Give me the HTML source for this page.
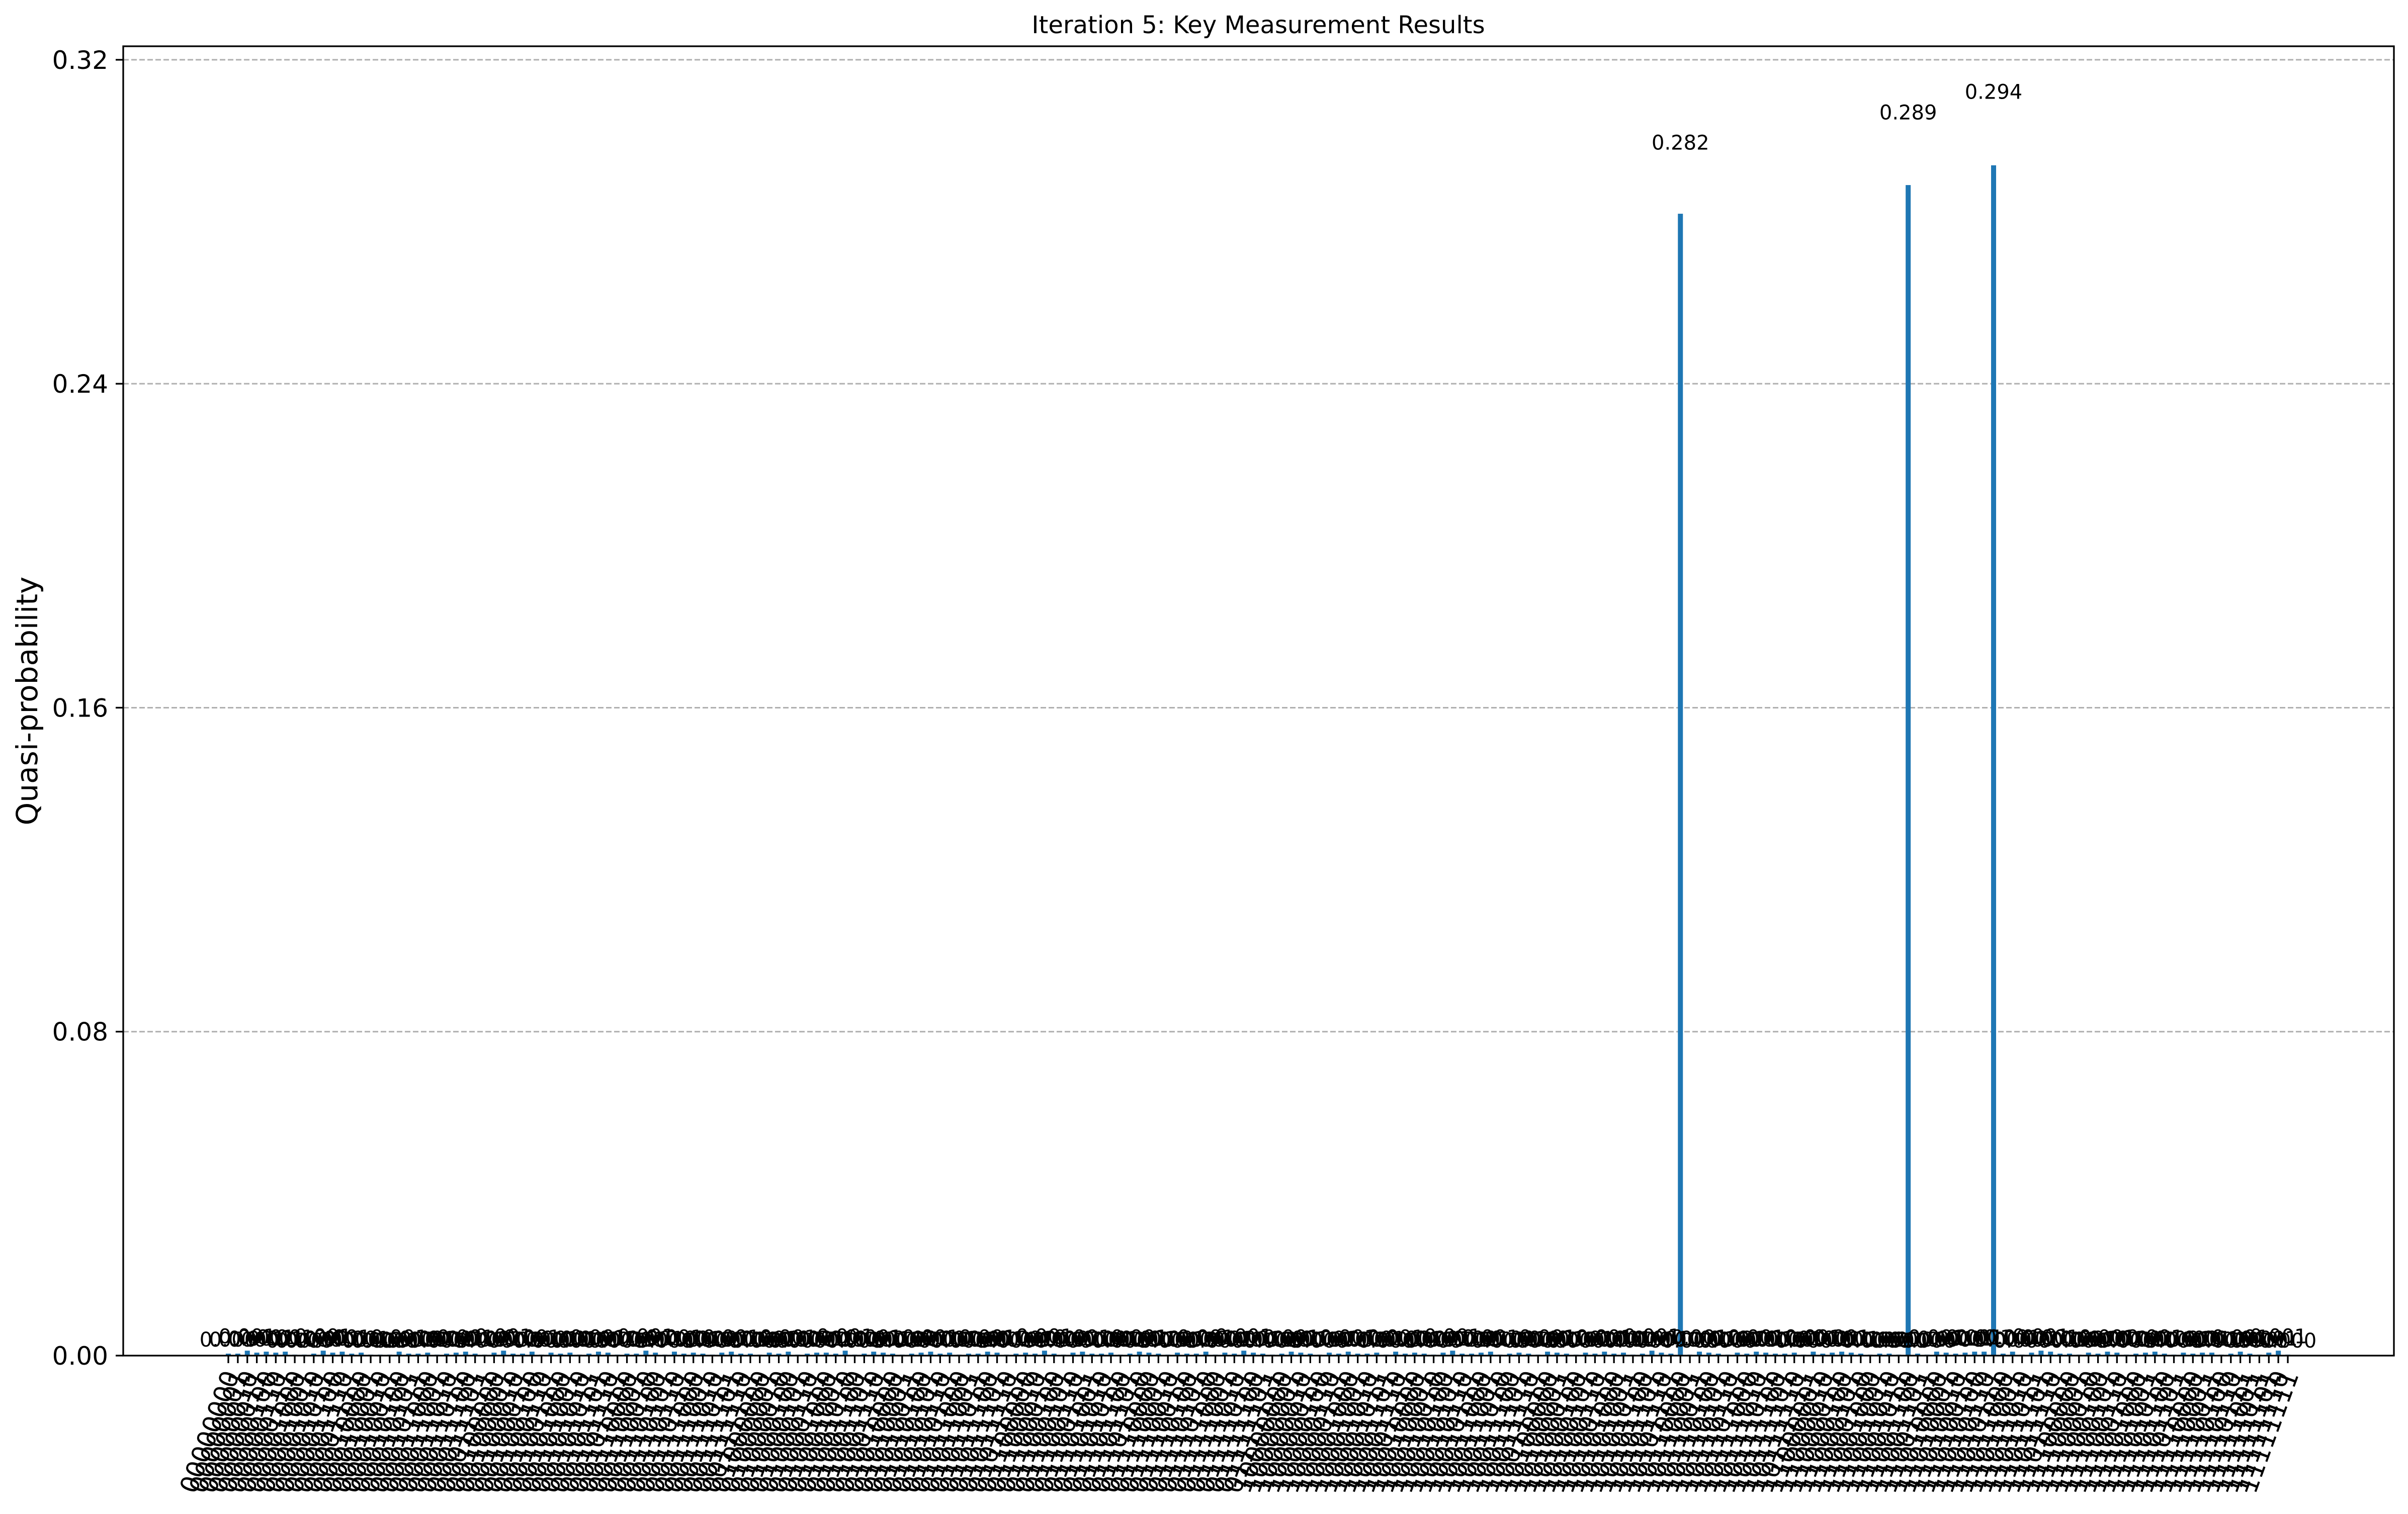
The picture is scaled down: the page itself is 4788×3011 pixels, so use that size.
<!DOCTYPE html>
<html>
<head>
<meta charset="utf-8">
<style>
html,body{margin:0;padding:0;background:#fff;}
svg{display:block;}
text{font-family:"DejaVu Sans","Liberation Sans",sans-serif;}
</style>
</head>
<body>
<svg id="chart" xmlns="http://www.w3.org/2000/svg" width="4788" height="3011" viewBox="0 0 4788 3011">
  <rect x="0" y="0" width="4788" height="3011" fill="#ffffff"/>
  <text x="2502" y="66" font-size="48" text-anchor="middle">Iteration 5: Key Measurement Results</text>
  <text x="0" y="0" font-size="58" text-anchor="middle" transform="translate(74,1394) rotate(-90)">Quasi-probability</text>
  <g id="grid"></g>
  <g id="bars"></g>
  <g id="vlabels"></g>
  <g id="yaxis"></g>
  <g id="xaxis"></g>
  <rect x="245" y="92" width="4515" height="2604" fill="none" stroke="#000" stroke-width="3.3"/>
</svg>
<script>
const totalShots = 4096;
const missingStates = [5,13,22,30,37,44,51,60,67,75,82,90,97,104,111,119,126,133,140,147,155,162,170,178,185,192,199,206,213,220,227,234,238,242,245,248,250,252];
const shotCounts = [
2,2,5,3,4,3,4,1,1,2,5,3,4,2,3,1,1,1,4,2,
2,3,1,2,3,4,2,1,3,5,2,2,4,1,3,2,3,1,2,4,
3,1,2,2,5,3,1,4,2,3,2,1,3,4,2,2,1,3,2,4,
1,2,3,3,2,5,1,2,4,3,2,1,2,3,4,2,3,1,2,2,
4,3,1,2,3,2,5,2,1,3,4,2,2,3,1,2,4,3,2,1,
3,2,2,4,1,3,2,5,3,2,1,2,4,3,2,1,3,2,4,2,
2,3,1,4,2,3,2,1,3,5,2,2,3,4,1,2,3,2,1,4,
3,2,1,3,2,4,2,3,1,2,5,3,2,
1155,
1,4,3,2,1,3,2,4,3,2,2,3,1,4,2,3,4,3,2,1,2,2,1,
1184,
2,1,4,3,2,3,4,4,
1204,
2,4,1,3,5,4,2,2,1,3,2,4,3,1,2,3,4,2,1,3,2,3,3,1,2,4,2,1,3,5,1
];
const yTicks = [0, 0.08, 0.16, 0.24, 0.32];
const yTickLabels = ["0.00", "0.08", "0.16", "0.24", "0.32"];

const NS = "http://www.w3.org/2000/svg";
const plotL = 245, plotR = 4760, plotT = 92, plotB = 2696;
const firstX = 454, lastX = 4549;

const categories = [];
for (let s = 0; s < 256; s++) {
  if (missingStates.indexOf(s) === -1) categories.push(s.toString(2).padStart(8, "0"));
}
const values = shotCounts.map(c => c / totalShots);
const yMax = Math.max(...values) * 1.1;

function yScale(v) { return plotB - v / yMax * (plotB - plotT); }
function xScale(i) { return firstX + i * (lastX - firstX) / (categories.length - 1); }
const step = (lastX - firstX) / (categories.length - 1);
const barW = step * 0.53;

function mk(tag, attrs, parent) {
  const el = document.createElementNS(NS, tag);
  for (const k in attrs) el.setAttribute(k, attrs[k]);
  parent.appendChild(el);
  return el;
}

const grid = document.getElementById("grid");
const yaxis = document.getElementById("yaxis");
yTicks.forEach((t, i) => {
  const y = yScale(t);
  const g = mk("line", {x1: plotL, x2: plotR, y1: y, y2: y, stroke: "#b0b0b0", "stroke-width": 3, "stroke-dasharray": "11,5"}, grid);
  
  
  const tk = mk("line", {x1: plotL - 15, x2: plotL, y1: y, y2: y, stroke: "#000", "stroke-width": 3.3}, yaxis);
  
  
  const lb = mk("text", {x: plotL - 30, y: y + 18, "font-size": 50, "text-anchor": "end"}, yaxis);
  
  
  lb.textContent = yTickLabels[i];
});

const bars = document.getElementById("bars");
const vlabels = document.getElementById("vlabels");
const xaxis = document.getElementById("xaxis");
categories.forEach((c, i) => {
  const x = xScale(i);
  const v = values[i];
  const yTop = yScale(v);
  const b = mk("rect", {x: x - barW / 2, y: yTop, width: barW, height: plotB - yTop, fill: "#1f77b4"}, bars);
  
  
  const vl = mk("text", {x: x, y: yScale(v * 1.05) - 14, "font-size": 40, "text-anchor": "middle"}, vlabels);
  
  
  vl.textContent = v.toFixed(3);
  const tk = mk("line", {x1: x, x2: x, y1: plotB, y2: plotB + 15, stroke: "#000", "stroke-width": 3.3}, xaxis);
  
  
  const xl = mk("text", {x: 0, y: 0, "font-size": 50, "text-anchor": "end", dy: "0.35em", transform: "translate(" + (x + 6) + "," + (plotB + 32) + ") rotate(-70)"}, xaxis);
  
  
  xl.textContent = c;
});
</script>
</body>
</html>
